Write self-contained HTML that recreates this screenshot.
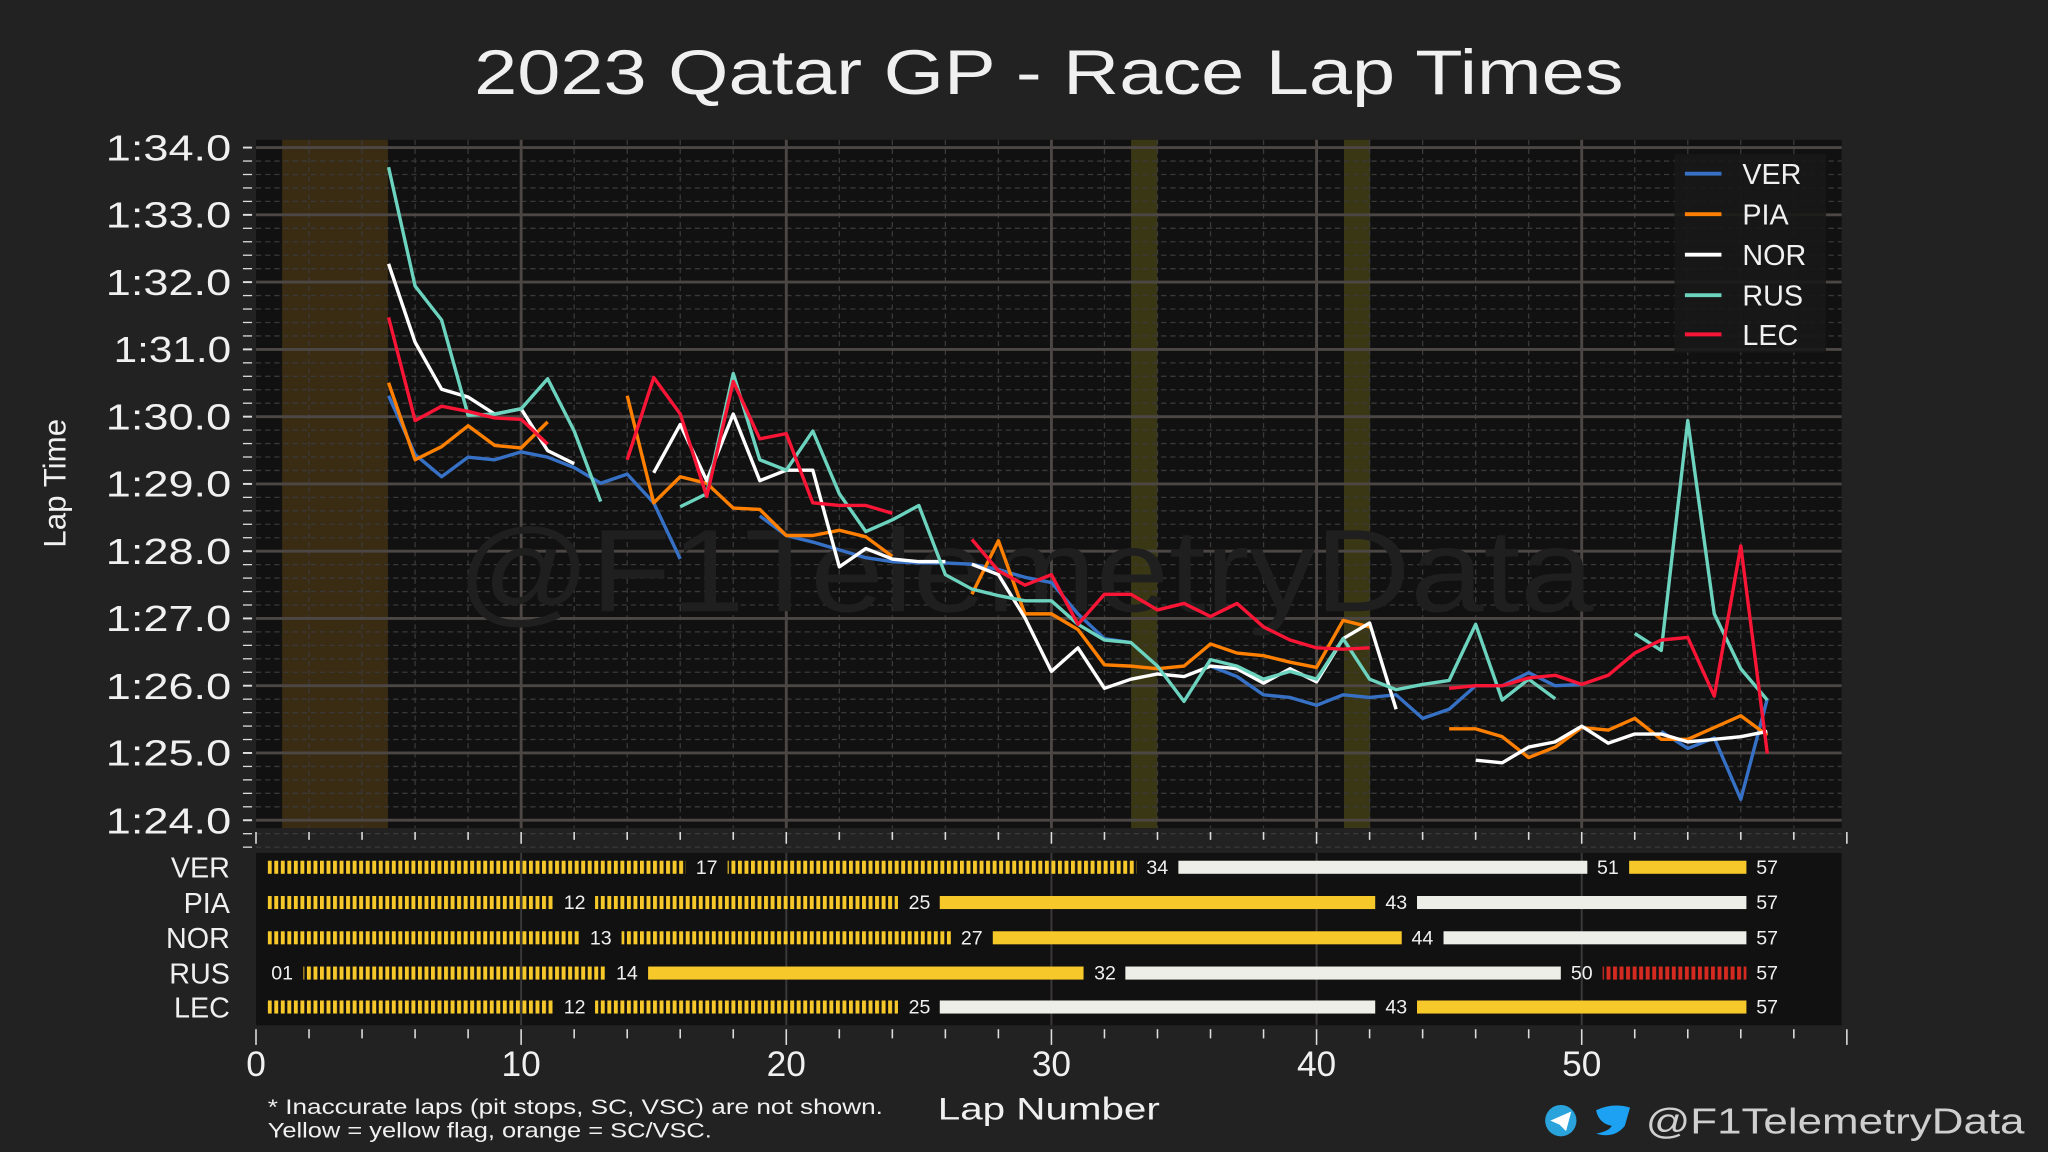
<!DOCTYPE html>
<html><head><meta charset="utf-8"><style>
html,body{margin:0;padding:0;background:#222;}
svg{display:block}
text{font-family:"Liberation Sans",sans-serif;fill:#f0f0f0}
</style></head><body>
<svg id="s" width="2048" height="1152" viewBox="0 0 1568 882" xmlns="http://www.w3.org/2000/svg">
<defs>
<pattern id="hy" width="5" height="10" patternUnits="userSpaceOnUse"><rect width="3" height="10" fill="#f7c82a"/></pattern>
<pattern id="hr" width="5" height="10" patternUnits="userSpaceOnUse"><rect width="3" height="10" fill="#d42a20"/></pattern>
<clipPath id="pc"><rect x="196" y="107" width="1214" height="527"/></clipPath>
</defs>
<rect width="1568" height="882" fill="#222"/>
<text x="363" y="72" font-size="48" textLength="880" lengthAdjust="spacingAndGlyphs">2023 Qatar GP - Race Lap Times</text>
<rect x="196" y="107" width="1214" height="527" fill="#111"/>
<rect x="216" y="107" width="81" height="527" fill="#3a2c13"/>
<rect x="866" y="107" width="20" height="527" fill="#3a3814"/>
<rect x="1029" y="107" width="20" height="527" fill="#3a3814"/>
<g id="grid"></g>
<text x="350" y="468" font-size="90" textLength="870" lengthAdjust="spacingAndGlyphs" style="fill:#1f1f1f">@F1TelemetryData</text>
<g id="lines" clip-path="url(#pc)" fill="none" stroke-width="2.6" stroke-linejoin="round"></g>
<rect x="1282" y="118" width="116" height="152" fill="#181818" opacity="0.9"/>
<g stroke-width="3">
<line x1="1290" y1="133" x2="1318" y2="133" stroke="#3671c6"/>
<line x1="1290" y1="164" x2="1318" y2="164" stroke="#ff8000"/>
<line x1="1290" y1="195" x2="1318" y2="195" stroke="#fff"/>
<line x1="1290" y1="226" x2="1318" y2="226" stroke="#6cd3bf"/>
<line x1="1290" y1="256" x2="1318" y2="256" stroke="#f91536"/>
</g>
<g font-size="22">
<text x="1334" y="141">VER</text><text x="1334" y="172">PIA</text><text x="1334" y="203">NOR</text><text x="1334" y="234">RUS</text><text x="1334" y="264">LEC</text>
</g>
<g font-size="28" text-anchor="end">
<text x="177" y="123" textLength="96" lengthAdjust="spacingAndGlyphs">1:34.0</text><text x="177" y="174" textLength="96" lengthAdjust="spacingAndGlyphs">1:33.0</text><text x="177" y="226" textLength="96" lengthAdjust="spacingAndGlyphs">1:32.0</text><text x="177" y="277" textLength="90" lengthAdjust="spacingAndGlyphs">1:31.0</text><text x="177" y="329" textLength="96" lengthAdjust="spacingAndGlyphs">1:30.0</text><text x="177" y="380" textLength="96" lengthAdjust="spacingAndGlyphs">1:29.0</text><text x="177" y="432" textLength="96" lengthAdjust="spacingAndGlyphs">1:28.0</text><text x="177" y="483" textLength="96" lengthAdjust="spacingAndGlyphs">1:27.0</text><text x="177" y="535" textLength="96" lengthAdjust="spacingAndGlyphs">1:26.0</text><text x="177" y="586" textLength="96" lengthAdjust="spacingAndGlyphs">1:25.0</text><text x="177" y="638" textLength="96" lengthAdjust="spacingAndGlyphs">1:24.0</text>
</g>
<text x="0" y="0" font-size="24" text-anchor="middle" transform="translate(50,370) rotate(-90)">Lap Time</text>
<rect x="196" y="653" width="1214" height="132" fill="#111"/>
<g id="tg"></g>
<g id="tyre"></g>
<g font-size="22" text-anchor="end">
<text x="176" y="672">VER</text><text x="176" y="699">PIA</text><text x="176" y="726">NOR</text><text x="176" y="753">RUS</text><text x="176" y="779">LEC</text>
</g>
<g font-size="15" text-anchor="middle" id="tl">
<text x="541" y="669">17</text><text x="886" y="669">34</text><text x="1231" y="669">51</text><text x="1353" y="669">57</text>
<text x="440" y="696">12</text><text x="704" y="696">25</text><text x="1069" y="696">43</text><text x="1353" y="696">57</text>
<text x="460" y="723">13</text><text x="744" y="723">27</text><text x="1089" y="723">44</text><text x="1353" y="723">57</text>
<text x="216" y="750">01</text><text x="480" y="750">14</text><text x="846" y="750">32</text><text x="1211" y="750">50</text><text x="1353" y="750">57</text>
<text x="440" y="776">12</text><text x="704" y="776">25</text><text x="1069" y="776">43</text><text x="1353" y="776">57</text>
</g>
<g font-size="27" text-anchor="middle">
<text x="196" y="824">0</text><text x="399" y="824">10</text><text x="602" y="824">20</text><text x="805" y="824">30</text><text x="1008" y="824">40</text><text x="1211" y="824">50</text>
</g>
<text x="718" y="857" font-size="24" textLength="170" lengthAdjust="spacingAndGlyphs">Lap Number</text>
<text x="205" y="853" font-size="16" textLength="471" lengthAdjust="spacingAndGlyphs">* Inaccurate laps (pit stops, SC, VSC) are not shown.</text>
<text x="205" y="871" font-size="16" textLength="340" lengthAdjust="spacingAndGlyphs">Yellow = yellow flag, orange = SC/VSC.</text>
<circle cx="1195" cy="858" r="12" fill="#2aa3dc"/>
<path d="M1187 858 L1203 851 L1199 866 L1194 861 Z" fill="#fff"/>
<path d="M1222 850 Q1235 844 1248 848 L1244 862 Q1236 872 1222 868 Q1232 866 1234 862 Q1224 860 1222 850 Z" fill="#1da1f2"/>
<text x="1260" y="868" font-size="28" textLength="290" lengthAdjust="spacingAndGlyphs" style="fill:#cfcfcf">@F1TelemetryData</text>
</svg>
<script>
var NS="http://www.w3.org/2000/svg";
function el(p,t,a){var e=document.createElementNS(NS,t);for(var k in a)e.setAttribute(k,a[k]);p.appendChild(e);return e;}
function X(l){return 196+20.3*l;}
var g=document.getElementById('grid');
for(var i=0;i<=52;i++){var y=113+i*51.5/5;if(i%5)el(g,'line',{x1:196,x2:1410,y1:y,y2:y,stroke:'#3a3838','stroke-width':1,'stroke-dasharray':'4,3'});
 el(g,'line',{x1:186,x2:193,y1:y,y2:y,stroke:'#ddd','stroke-width':i%5?1:1.5});}
for(var l=0;l<=60;l+=2){var x=X(l);if(l%10)el(g,'line',{x1:x,x2:x,y1:107,y2:634,stroke:'#3a3838','stroke-width':1,'stroke-dasharray':'4,3'});
 el(g,'line',{x1:x,x2:x,y1:637,y2:l%10?643:646,stroke:'#ddd','stroke-width':1.2});
 el(g,'line',{x1:x,x2:x,y1:788,y2:l%10?795:800,stroke:'#ddd','stroke-width':1.2});}
for(var i=0;i<=10;i++){var y=113+i*51.5;el(g,'line',{x1:196,x2:1410,y1:y,y2:y,stroke:'#4c4744','stroke-width':2.2});}
for(var l=10;l<=50;l+=10){var x=X(l);el(g,'line',{x1:x,x2:x,y1:107,y2:634,stroke:'#4c4744','stroke-width':2.2});}
var tg=document.getElementById('tg');
for(var l=10;l<=50;l+=10){var x=X(l);el(tg,'line',{x1:x,x2:x,y1:653,y2:785,stroke:'#3a3838','stroke-width':1.5});}
var D={
'#3671c6':[[5,303,348,365,350,352,346,350,358,370,363,385,428],[19,395,410,415,421,427,430,431,431,432,436,442,446,470,489,492],[36,510,518,532,534,540,532,534,532,550,543,525,525,515,525,524],[53,560,573,565,612,535]],
'#ff8000':[[5,293,352,342,326,341,343,323],[14,303,385,365,370,389,390,410,410,406,411,426],[27,455,414,470,470,482,509,510,512,510,493,500,502,507,511,475,480],[45,558,558,564,580,572,557,559,550,566,566,557,548,563]],
'#ffffff':[[5,202,262,298,304,317,313,345,355],[15,362,325,368,317,368,360,360,434,420,428,430,430],[27,432,440,473,514,496,527,520,516,518,510,512,523,512,522,489,477,543],[46,582,584,572,568,556,569,562,562,568,566,564,560]],
'#6cd3bf':[[5,128,219,245,318,317,313,290,330,384],[16,388,378,286,352,360,330,378,407,398,387,440,451,456,460,460,478,490,492,510,537,505,510,520,514,520,489,520,528,524,521,478,536,520,535],[52,485,498,322,470,512,536]],
'#f91536':[[5,243,322,311,315,320,321,340],[14,352,289,317,380,292,336,332,385,387,387,393],[27,413,437,448,440,478,455,455,467,462,472,462,480,490,496,497,496],[45,527,525,525,519,517,524,517,500,490,488,533,418,577]]};
var L=document.getElementById('lines');
['#3671c6','#ff8000','#ffffff','#6cd3bf','#f91536'].forEach(function(c){D[c].forEach(function(s){var p=[];for(var i=1;i<s.length;i++)p.push(X(s[0]+i-1)+','+s[i]);el(L,'polyline',{points:p.join(' '),stroke:c});});});
var T=document.getElementById('tyre');
var rows=[[664,[[0,17,'hy'],[17,34,'hy'],[34,51,'#eeeee8'],[51,57,'#f7c82a']]],
[691,[[0,12,'hy'],[12,25,'hy'],[25,43,'#f7c82a'],[43,57,'#eeeee8']]],
[718,[[0,13,'hy'],[13,27,'hy'],[27,44,'#f7c82a'],[44,57,'#eeeee8']]],
[745,[[1,14,'hy'],[14,32,'#f7c82a'],[32,50,'#eeeee8'],[50,57,'hr']]],
[771,[[0,12,'hy'],[12,25,'hy'],[25,43,'#eeeee8'],[43,57,'#f7c82a']]]];
rows.forEach(function(r){r[1].forEach(function(s){var x1=s[0]==0?205:X(s[0])+16,x2=X(s[1])-16;var f=s[2].charAt(0)=='#'?s[2]:'url(#'+s[2]+')';el(T,'rect',{x:x1,y:r[0]-5,width:x2-x1,height:10,fill:f});});});
</script>
</body></html>
